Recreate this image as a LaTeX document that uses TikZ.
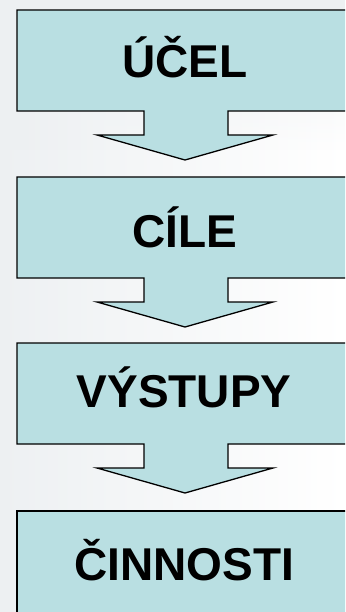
\documentclass[tikz,border=0pt]{standalone}
\usepackage{fontspec}
\setmainfont{Liberation Sans}
\usepackage{tikz}
\usetikzlibrary{fadings}

\definecolor{boxfill}{HTML}{B9DFE2}
\definecolor{slidebg}{HTML}{EDF0F2}

\tikzset{
    callout/.style={draw=black,fill=boxfill,line width=1.3pt,line join=miter},
    word/.style={font=\bfseries\fontsize{46}{50}\selectfont,anchor=base,inner sep=0pt}
}

\begin{document}
\begin{tikzpicture}[x=1pt,y=-1pt]
        \clip (0,0) rectangle (345,612);
        \shade[left color=slidebg,right color=white] (0,0) rectangle (345,612);
        \fill[slidebg,path fading=south] (0,0) rectangle (345,150);
        % boxes with a down arrow
        \foreach \t in {10,177,343}
            \draw[callout] (17,\t) -- (353,\t) -- (353,\t+101) -- (228,\t+101) -- (228,\t+125)
                -- (273,\t+125) -- (185,\t+150) -- (97,\t+125) -- (144,\t+125) -- (144,\t+101)
                -- (17,\t+101) -- cycle;
        % last box, no arrow
        \draw[callout] (17,511) rectangle (353,625);
        \foreach \name/\x/\y/\txt in {ucel/185/78/ÚČEL, cile/185/247/CÍLE, vystupy/184/407/VÝSTUPY, cinnosti/184/580/ČINNOSTI}{
            \node[word] (\name) at (\x,\y) {\txt};
        }
    \end{tikzpicture}
\end{document}
